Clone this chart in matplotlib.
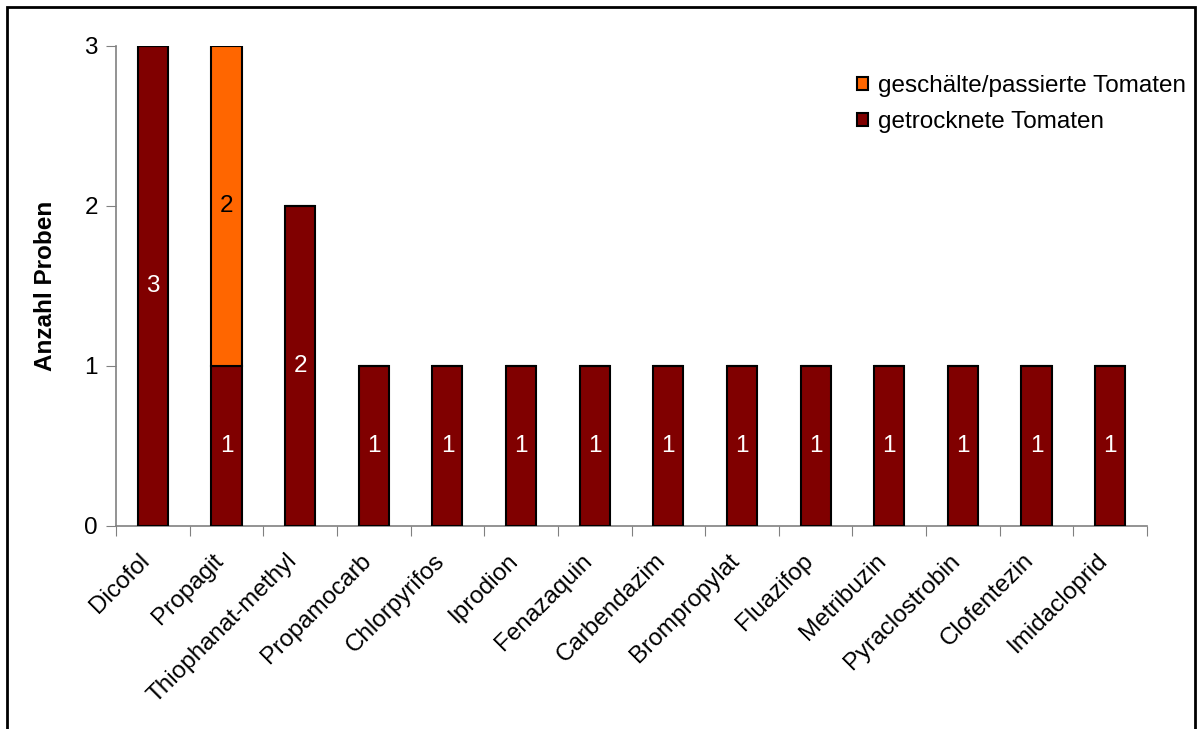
import numpy as np
import matplotlib.pyplot as plt
from matplotlib.patches import Rectangle

plt.rcParams['font.family'] = ['Liberation Sans', 'DejaVu Sans']

# categories and counts per sample type
wirkstoffe = ['Dicofol', 'Propagit', 'Thiophanat-methyl', 'Propamocarb', 'Chlorpyrifos',
              'Iprodion', 'Fenazaquin', 'Carbendazim', 'Brompropylat', 'Fluazifop',
              'Metribuzin', 'Pyraclostrobin', 'Clofentezin', 'Imidacloprid']
getrocknet = [3, 1, 2, 1, 1, 1, 1, 1, 1, 1, 1, 1, 1, 1]
geschaelt = [0, 2, 0, 0, 0, 0, 0, 0, 0, 0, 0, 0, 0, 0]
yticks = [0, 1, 2, 3]

dunkelrot = '#800000'
orange = '#FF6600'
fs = 17.5

fig = plt.figure(figsize=(12, 7.29), dpi=100)
ax = fig.add_axes([116 / 1200, 1 - 526 / 729, (1147 - 116) / 1200, (526 - 46) / 729])

x = np.arange(len(wirkstoffe))
getr = np.array(getrocknet)
gesch = np.array(geschaelt)

b1 = ax.bar(x, getr, width=0.41, color=dunkelrot, edgecolor='black', linewidth=1.5,
            label='getrocknete Tomaten', zorder=3)
b2 = ax.bar(x, gesch, bottom=getr, width=0.41, color=orange, edgecolor='black',
            linewidth=1.5, label='geschälte/passierte Tomaten', zorder=3)

# value labels in the middle of each segment
for i in range(len(x)):
    if getr[i] > 0:
        ax.text(x[i], getr[i] / 2, str(getr[i]), ha='center', va='center',
                color='white', fontsize=fs, zorder=4)
    if gesch[i] > 0:
        ax.text(x[i], getr[i] + gesch[i] / 2, str(gesch[i]), ha='center', va='center',
                color='black', fontsize=fs, zorder=4)

ax.set_xlim(-0.5, len(x) - 0.5)
ax.set_ylim(0, 3)
ax.set_yticks(yticks)
ax.set_yticklabels([str(t) for t in yticks], fontsize=fs)

# ticks on the category boundaries, labels under the bars (nudged left a bit)
ax.set_xticks(np.arange(len(x) + 1) - 0.5)
ax.set_xticklabels([])
ax.set_xticks(x - 0.19, minor=True)
ax.set_xticklabels(wirkstoffe, minor=True, rotation=45, ha='right', va='top',
                   rotation_mode='anchor', fontsize=fs)
ax.tick_params(axis='x', which='minor', length=0, pad=17)
ax.tick_params(axis='x', which='major', length=7, color='#808080', direction='out')
ax.tick_params(axis='y', length=7, color='#808080', direction='out', pad=6)

for s in ['top', 'right']:
    ax.spines[s].set_visible(False)
for s in ['left', 'bottom']:
    ax.spines[s].set_color('#808080')
    ax.spines[s].set_linewidth(1.2)

ax.set_ylabel('Anzahl Proben', fontsize=fs, fontweight='bold', labelpad=20)

handles = [b2, b1]
ax.legend(handles, [h.get_label() for h in handles], loc='upper left',
          bbox_to_anchor=(0.719, 0.94), frameon=False, fontsize=fs,
          handlelength=0.45, handleheight=0.45, handletextpad=0.4, labelspacing=0.6,
          borderpad=0, borderaxespad=0)

# outer frame like the original chart area
fig.patches.append(Rectangle((7 / 1200, -0.05), (1195 - 7) / 1200, 1 - 7 / 729 + 0.05,
                             transform=fig.transFigure, fill=False,
                             edgecolor='black', linewidth=2))

fig.savefig('out.png', dpi=100)
